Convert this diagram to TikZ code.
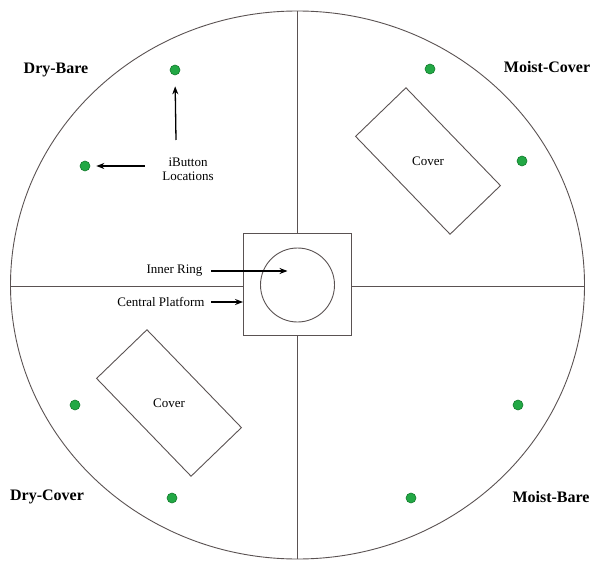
\documentclass[tikz,border=0pt]{standalone}
\usepackage{fontspec}
\setmainfont{Liberation Serif}
\usepackage{xcolor}
\usetikzlibrary{arrows.meta,positioning,calc}

\definecolor{linegray}{HTML}{5A5252}
\definecolor{dotgreen}{HTML}{22A845}
\definecolor{dotedge}{HTML}{137A2C}

\begin{document}
\begin{tikzpicture}[
  x=1pt, y=1pt,
  >={Stealth[length=8pt,width=6pt]},
  every node/.style={font=\fontsize{13}{14}\selectfont},
  zone/.style={font=\fontsize{16}{18}\selectfont\bfseries},
  sensor/.style={circle, fill=dotgreen, draw=dotedge, line width=0.6pt,
                 minimum size=10pt, inner sep=0pt},
  coverbox/.style={draw=linegray, line width=0.9pt, rectangle,
                   minimum width=136pt, minimum height=70pt, rotate=-46},
  plotline/.style={draw=linegray, line width=0.9pt},
  pointer/.style={->, line width=1.3pt}
]
\useasboundingbox (0,0) rectangle (593,560);

% outer plot and quadrant lines
\draw[plotline] (297.5,275) ellipse [x radius=287, y radius=274];
\node (platform) [plotline, rectangle, minimum width=108pt, minimum height=102pt] at (297.5,276) {};
\node (ring) [plotline, circle, minimum size=74pt, inner sep=0pt] at (297.5,275) {};

\coordinate (ntop)   at (297.5,549);
\coordinate (nbot)   at (297.5,1);
\coordinate (nleft)  at (10.5,274);
\coordinate (nright) at (584.5,274);

\draw[plotline] (ntop) -- (platform.north);
\draw[plotline] (platform.south) -- (nbot);
\draw[plotline] (nleft) -- (nleft -| platform.west);
\draw[plotline] (nright -| platform.east) -- (nright);

% treatment labels
\node (drybare)    [zone] at (56,490)  {Dry-Bare};
\node (moistcover) [zone] at (547,493) {Moist-Cover};
\node (drycover)   [zone] at (47,63)   {Dry-Cover};
\node (moistbare)  [zone] at (551,63)  {Moist-Bare};

% covers
\node (cover1) [coverbox] at (428,399) {};
\node (cover1lbl) at (cover1) {Cover};
\node (cover2) [coverbox] at (169,157) {};
\node (cover2lbl) at (cover2) {Cover};

% iButtons
\node (db1) [sensor] at (175,490) {};
\node (db2) [sensor] at (85,394)  {};
\node (mc1) [sensor] at (430,491) {};
\node (mc2) [sensor] at (522,399) {};
\node (dc1) [sensor] at (75,155)  {};
\node (dc2) [sensor] at (172,62)  {};
\node (mb1) [sensor] at (518,155) {};
\node (mb2) [sensor] at (411,62)  {};

\node (ibutton) [align=center] at (188,391) {iButton\\Locations};
\coordinate (uptail) at (176,420);
\draw[pointer, shorten >=11pt] (uptail) -- (db1.south);
\draw[pointer, shorten <=14pt, shorten >=6pt] (ibutton.west |- db2) -- (db2.east);

% centre labels
\node (ringlbl) [anchor=east] at (206,289) {Inner Ring};
\draw[pointer, shorten <=5pt, shorten >=10pt] (ringlbl.east) -- (ringlbl.east -| ring.center);
\node (platlbl) [anchor=east] at (208,258) {Central Platform};
\draw[pointer, shorten <=3pt] (platlbl.east) -- (platlbl.east -| platform.west);
\end{tikzpicture}
\end{document}
